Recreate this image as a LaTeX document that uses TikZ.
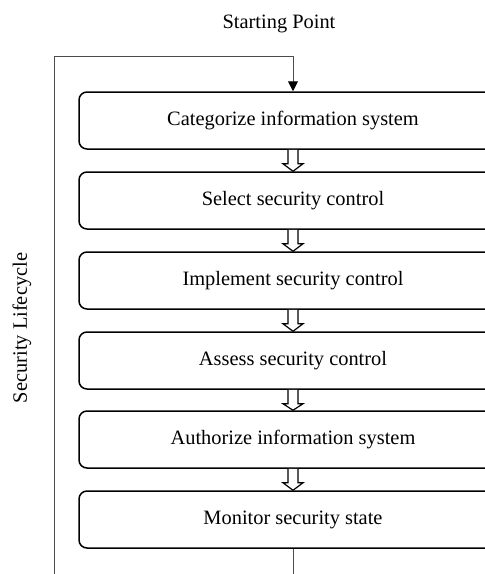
\documentclass[tikz,border=0pt]{standalone}
\usepackage{fontspec}
\setmainfont{Liberation Serif}
\usetikzlibrary{arrows.meta,calc}

\tikzset{
    stagebox/.style={draw, rounded corners=4pt, line width=0.75pt, minimum width=214pt, minimum height=28.5pt, inner sep=0pt, font=\fontsize{10.2}{12}\selectfont},
    loopline/.style={draw=black!70, line width=0.5pt},
    hollow/.style={draw, line width=0.6pt, fill=white, line join=miter},
    label/.style={font=\fontsize{10.2}{12}\selectfont}
}

% hollow block arrow from one stage down to the next
\newcommand{\stepdown}[2]{%
    \draw[hollow] ($(#1.south)+(-5,0)$) -- ++(0,14) -- ++(-5,0) -- (#2.north)
        -- ($(#1.south)+(10,14)$) -- ++(-5,0) -- ++(0,-14);
}

\begin{document}
\begin{tikzpicture}[x=0.5pt, y=-0.5pt]
        \clip (0,0) rectangle (485,574);

        % Stages
        \node[stagebox] (cat) at (293, 120.5) {Categorize information system};
        \node[stagebox] (sel) at (293, 200.5) {Select security control};
        \node[stagebox] (imp) at (293, 280.5) {Implement security control};
        \node[stagebox] (ass) at (293, 360.5) {Assess security control};
        \node[stagebox] (aut) at (293, 439.5) {Authorize information system};
        \node[stagebox] (mon) at (293, 519.5) {Monitor security state};

        \stepdown{cat}{sel}
        \stepdown{sel}{imp}
        \stepdown{imp}{ass}
        \stepdown{ass}{aut}
        \stepdown{aut}{mon}

        % Loop back to the start
        \coordinate (down) at (293, 580);
        \coordinate (up) at (54, 580);
        \coordinate (corner) at (54, 56);
        \draw[loopline] (mon.south) -- (down);
        \draw[loopline, -{Triangle[width=5pt, length=5pt, color=black]}] (up) -- (corner) -| (cat.north);

        % Labels
        \node[label] (start) at (279, 24) {Starting Point};
        \node[label, rotate=90] (cycle) at (22, 328) {Security Lifecycle};
\end{tikzpicture}
\end{document}
